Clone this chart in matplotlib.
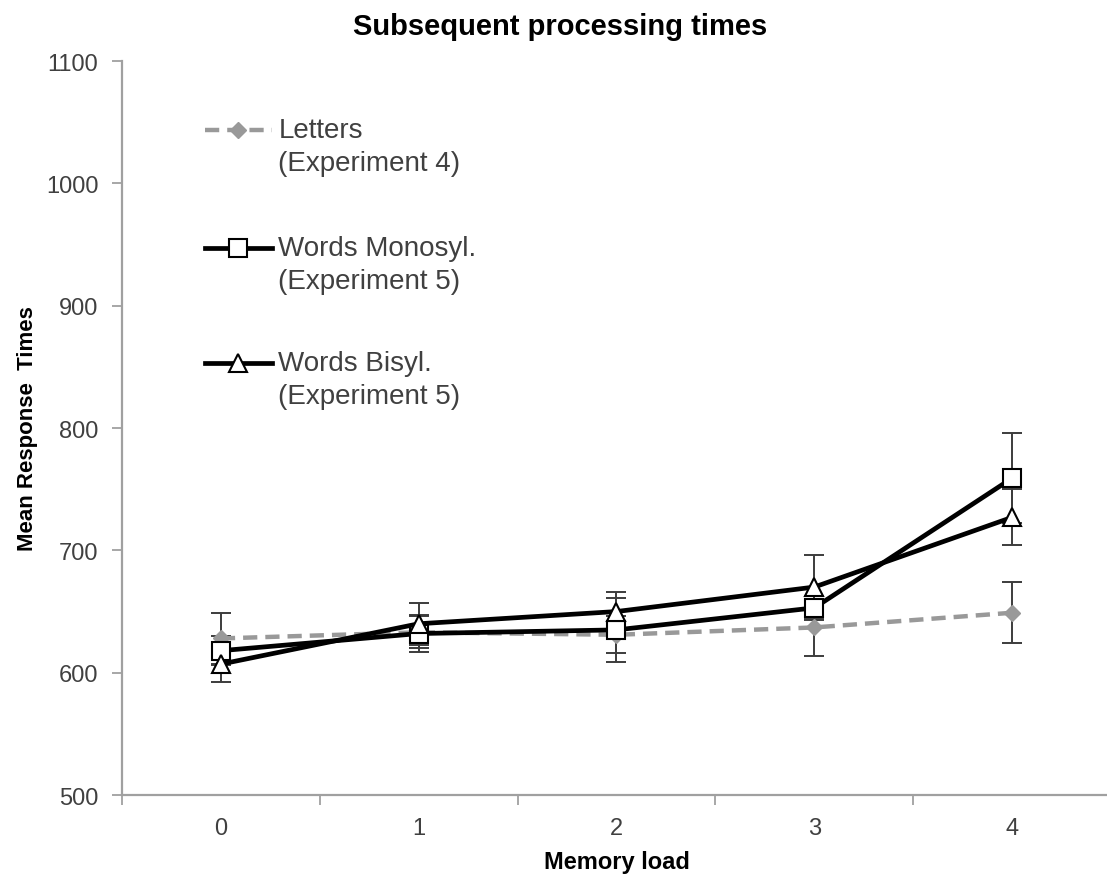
import numpy as np
import matplotlib.pyplot as plt
from matplotlib.ticker import FixedLocator

plt.rcParams['font.family'] = ['Liberation Sans', 'DejaVu Sans']

# data
memory_load = [0, 1, 2, 3, 4]
letters = [628, 633, 631, 637, 649]
letters_err = [21, 13, 15, 23, 25]
monosyl = [618, 632, 635, 653, 759]
monosyl_err = [12, 15, 26, 10, 37]
bisyl = [607, 640, 650, 670, 727]
bisyl_err = [15, 17, 16, 26, 23]

series_names = ["Letters", "Words Monosyl.", "Words Bisyl."]
series_notes = ["(Experiment 4)", "(Experiment 5)", "(Experiment 5)"]

err_color = "#3c3c3c"
gray = "#999999"
txt = "#404040"

fig = plt.figure(figsize=(11.07, 8.79), dpi=100)
ax = fig.add_axes([0.1102, 0.0944, 0.8934, 0.835])

x = np.array(memory_load)

# error bars first, Excel style
for vals, errs in [(letters, letters_err), (monosyl, monosyl_err), (bisyl, bisyl_err)]:
    ax.errorbar(x, vals, yerr=errs, fmt='none', ecolor=err_color,
                elinewidth=1.4, capsize=7, capthick=1.4, zorder=2)

styles = [
    dict(color=gray, ls=(0, (3.2, 1.8)), lw=3.2, marker='D', ms=8.5,
         mfc=gray, mec=gray),
    dict(color='black', ls='-', lw=3.4, marker='s', ms=13,
         mfc='white', mec='black', mew=1.5),
    dict(color='black', ls='-', lw=3.4, marker='^', ms=13,
         mfc='white', mec='black', mew=1.5),
]

for vals, st in zip([letters, monosyl, bisyl], styles):
    ax.plot(x, vals, zorder=3, **st)

# legend drawn by hand so the handle sits on the first text line
leg_y = [0.906, 0.745, 0.589]
for name, note, st, yy in zip(series_names, series_notes, styles, leg_y):
    line_st = {k: v for k, v in st.items() if not k.startswith('m')}
    ax.plot([0.084, 0.152], [yy, yy], transform=ax.transAxes,
            clip_on=False, zorder=4, **line_st)
    ax.plot([0.117], [yy], transform=ax.transAxes, ls='none',
            marker=st['marker'], ms=st['ms'], mfc=st['mfc'], mec=st['mec'],
            mew=st.get('mew', 1), clip_on=False, zorder=5)
    ax.text(0.158, yy, name, transform=ax.transAxes, va='center',
            ha='left', fontsize=20, color=txt)
    ax.text(0.158, yy - 0.045, note, transform=ax.transAxes, va='center',
            ha='left', fontsize=20, color=txt)

ax.set_xlim(-0.5, 4.5)
ax.set_ylim(500, 1100)
ax.set_yticks(np.arange(500, 1101, 100))

ax.xaxis.set_major_locator(FixedLocator(memory_load))
ax.xaxis.set_minor_locator(FixedLocator(np.arange(-0.5, 4.6, 1.0)))
ax.set_xticklabels([str(v) for v in memory_load])
ax.tick_params(axis='x', which='major', length=0, pad=16,
               labelsize=17, labelcolor=txt)
ax.tick_params(axis='x', which='minor', length=7, width=1.3,
               color='#a0a0a0', direction='out')
ax.tick_params(axis='y', length=7, width=1.3, color='#a0a0a0',
               pad=10, labelsize=17, labelcolor=txt, direction='out')

for side in ['top', 'right']:
    ax.spines[side].set_visible(False)
for side in ['left', 'bottom']:
    ax.spines[side].set_color('#a0a0a0')
    ax.spines[side].set_linewidth(1.6)

ax.set_xlabel("Memory load", fontsize=17, fontweight='bold', labelpad=8)
ax.set_ylabel("Mean Response  Times", fontsize=16, fontweight='bold',
              labelpad=6)
fig.suptitle("Subsequent processing times", x=0.506, y=0.985,
             fontsize=21, fontweight='bold', va='top')

fig.savefig("out.png", dpi=100)
